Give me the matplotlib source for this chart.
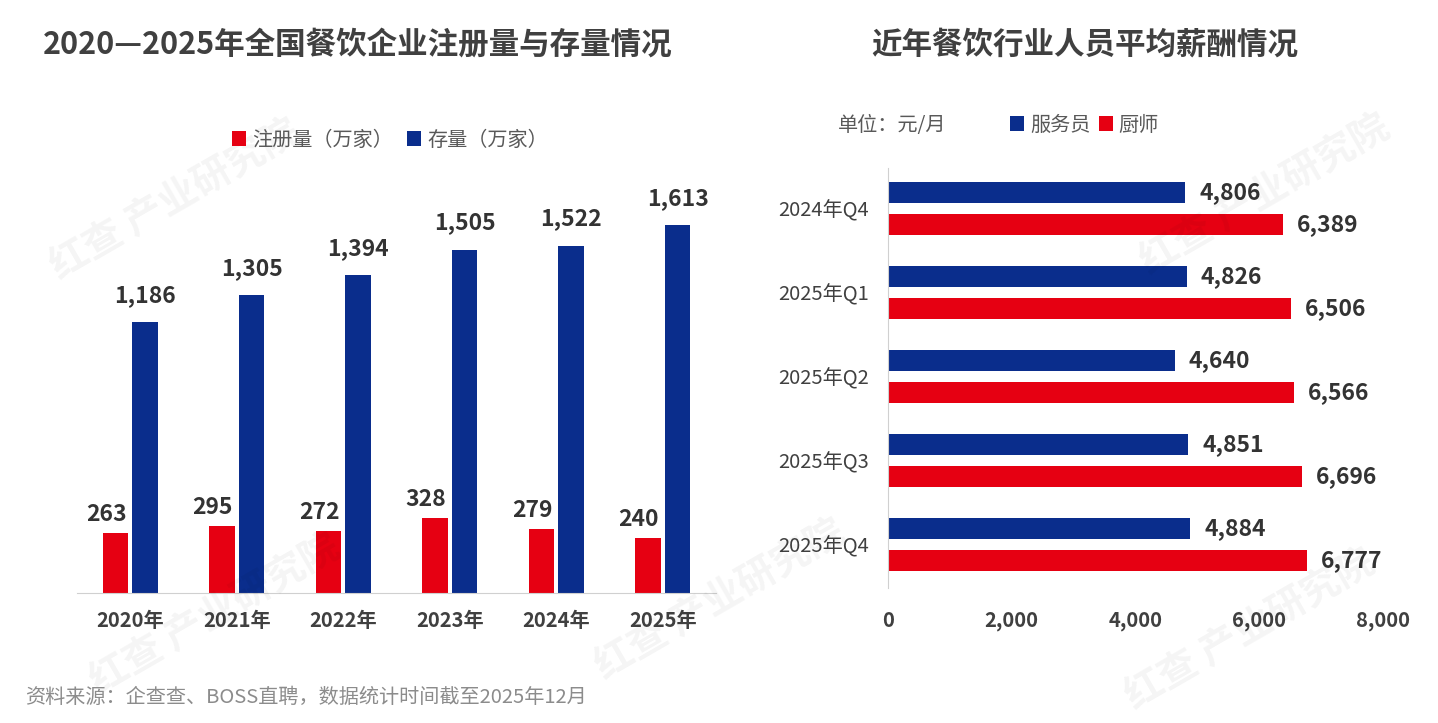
import matplotlib.pyplot as plt

plt.rcParams['font.family'] = ['Noto Sans CJK SC', 'DejaVu Sans']

RED = '#E60012'
BLUE = '#0A2D8C'
GRAY = '#595959'

# left chart data
years = ['2020年', '2021年', '2022年', '2023年', '2024年', '2025年']
registered = [263, 295, 272, 328, 279, 240]
stock = [1186, 1305, 1394, 1505, 1522, 1613]

# right chart data
quarters = ['2024年Q4', '2025年Q1', '2025年Q2', '2025年Q3', '2025年Q4']
waiter = [4806, 4826, 4640, 4851, 4884]
chef = [6389, 6506, 6566, 6696, 6777]

W, H = 1438, 723
fig = plt.figure(figsize=(W / 100, H / 100), dpi=100)

# faint watermarks
for (x, y) in [(175, 200), (215, 615), (1265, 195), (720, 600), (1250, 630)]:
    fig.text(x / W, 1 - y / H, '红查 产业研究院', fontsize=28, color='#000000', alpha=0.045,
             rotation=30, ha='center', va='center', fontweight='bold')

# ---- left: registrations and stock
ax1 = fig.add_axes([77 / W, 130 / H, 639 / W, 443 / H])
x = list(range(len(years)))
bw = 0.24
ax1.bar([i - 0.14 for i in x], registered, width=bw, color=RED, label='注册量（万家）')
ax1.bar([i + 0.14 for i in x], stock, width=bw, color=BLUE, label='存量（万家）')
for i in x:
    ax1.annotate(f'{registered[i]:,}', (i - 0.225, registered[i]), xytext=(0, 5),
                 textcoords='offset points', ha='center', va='bottom',
                 fontsize=16.5, fontweight='bold', color='#333333')
    ax1.annotate(f'{stock[i]:,}', (i + 0.14, stock[i]), xytext=(0, 11),
                 textcoords='offset points', ha='center', va='bottom',
                 fontsize=16.5, fontweight='bold', color='#333333')
ax1.set_xlim(-0.5, 5.5)
ax1.set_ylim(0, 1942)
ax1.set_xticks(x)
ax1.set_xticklabels(years, fontsize=14.5, fontweight='bold', color='#404040')
ax1.tick_params(axis='x', length=0, pad=12)
ax1.set_yticks([])
for s in ['top', 'right', 'left']:
    ax1.spines[s].set_visible(False)
ax1.spines['bottom'].set_color('#d0d0d0')
fig.legend(handles=ax1.get_legend_handles_labels()[0], loc='center left',
           bbox_to_anchor=(222 / W, 1 - 140 / H), ncol=2, frameon=False, borderpad=0,
           fontsize=14.5, labelcolor=GRAY, handlelength=0.7, handleheight=0.7,
           handletextpad=0.3, columnspacing=0.7)

fig.text(358 / W, 1 - 45 / H, '2020—2025年全国餐饮企业注册量与存量情况',
         fontsize=22, fontweight='bold', color='#404040', ha='center', va='center')

# ---- right: salaries
ax2 = fig.add_axes([888 / W, 135 / H, 495 / W, 420 / H])
y = list(range(len(quarters)))
bh = 0.26
ax2.barh([i - 0.19 for i in y], waiter, height=bh, color=BLUE, label='服务员')
ax2.barh([i + 0.19 for i in y], chef, height=bh, color=RED, label='厨师')
for i in y:
    ax2.annotate(f'{waiter[i]:,}', (waiter[i], i - 0.19), xytext=(10, 0),
                 textcoords='offset points', ha='left', va='center',
                 fontsize=16.5, fontweight='bold', color='#333333')
    ax2.annotate(f'{chef[i]:,}', (chef[i], i + 0.19), xytext=(10, 0),
                 textcoords='offset points', ha='left', va='center',
                 fontsize=16.5, fontweight='bold', color='#333333')
ax2.set_ylim(4.518, -0.482)
ax2.set_xlim(0, 8000)
ax2.set_yticks(y)
ax2.set_yticklabels(quarters, fontsize=14.5, fontweight='medium', color='#404040')
ax2.set_xticks([0, 2000, 4000, 6000, 8000])
ax2.set_xticklabels(['0', '2,000', '4,000', '6,000', '8,000'], fontsize=14.5,
                    fontweight='bold', color='#404040')
ax2.tick_params(axis='y', length=0, pad=14)
ax2.tick_params(axis='x', length=0, pad=16)
for s in ['top', 'right', 'bottom']:
    ax2.spines[s].set_visible(False)
ax2.spines['left'].set_color('#d0d0d0')
fig.legend(handles=ax2.get_legend_handles_labels()[0], loc='center left',
           bbox_to_anchor=(1000 / W, 1 - 125 / H), ncol=2, frameon=False, borderpad=0,
           fontsize=14.5, labelcolor=GRAY, handlelength=0.7, handleheight=0.7,
           handletextpad=0.3, columnspacing=0.4)
fig.text(838 / W, 1 - 125 / H, '单位：元/月', fontsize=14.5, color=GRAY, ha='left', va='center')

fig.text(1085 / W, 1 - 45 / H, '近年餐饮行业人员平均薪酬情况',
         fontsize=22, fontweight='bold', color='#404040', ha='center', va='center')

fig.text(25 / W, 1 - 697 / H, '资料来源：企查查、BOSS直聘，数据统计时间截至2025年12月',
         fontsize=14.5, color='#8c8c8c', ha='left', va='center')

fig.savefig('out.png', dpi=100)
